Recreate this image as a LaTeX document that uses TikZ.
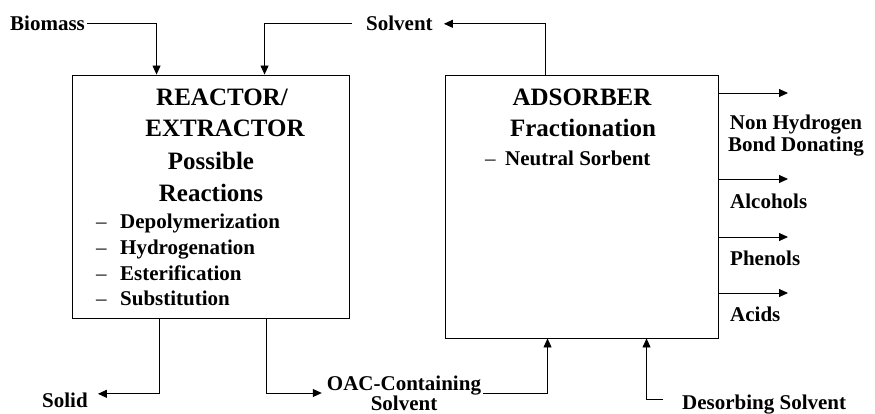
\documentclass[tikz,border=0pt]{standalone}
\usepackage{fontspec}
\setmainfont{Liberation Serif}
\usetikzlibrary{arrows.meta}

\begin{document}
\begin{tikzpicture}[x=1pt, y=-1pt,
    unit/.style={draw, line width=0.9pt, inner sep=0pt},
    lbl/.style={font=\fontsize{21}{22}\selectfont\bfseries, inner sep=2pt},
    head/.style={font=\fontsize{25}{31}\selectfont\bfseries, inner sep=0pt, anchor=base},
    flow/.style={line width=0.9pt, -{Triangle[length=9pt, width=8pt]}}]
    \useasboundingbox (0,0) rectangle (875,414);

    % Units
    \node[unit, minimum width=277, minimum height=243] (reactor) at (210.5,196.5) {};
    \node[unit, minimum width=273, minimum height=263] (adsorber) at (581.5,206.5) {};

    % Reactor text
    \node[head] (rtitle) at (222,106) {REACTOR/};
    \node[head] (rtitle2) at (225,137) {EXTRACTOR};
    \node[head] (rposs) at (211,170) {Possible};
    \node[head] (rposs2) at (211,202) {Reactions};
    \foreach \rx [count=\i] in {Depolymerization, Hydrogenation, Esterification, Substitution}
        \node[lbl, inner sep=0pt, anchor=base west] (react\i) at (96,{229+25.6*(\i-1)})
            {\makebox[24pt][l]{\mdseries\textendash}\rx};

    % Adsorber text
    \node[head] (atitle) at (582,106) {ADSORBER};
    \node[head] (atitle2) at (583,137) {Fractionation};
    \node[lbl, inner sep=0pt, anchor=base west] (sorbent) at (485,166)
        {\makebox[20pt][l]{\mdseries\textendash}Neutral Sorbent};

    % Streams in and out of the reactor
    \node[lbl, anchor=base west] (biomass) at (8,31) {Biomass};
    \node[lbl, anchor=base west] (solvent) at (364,31) {Solvent};
    \node[lbl, anchor=base west] (solid) at (40,407) {Solid};
    \node[lbl, align=center, font=\fontsize{21}{20}\selectfont\bfseries] (oac) at (404,393) {OAC-Containing\\Solvent};
    \node[lbl, anchor=base west] (desorb) at (680,409) {Desorbing Solvent};

    \draw[flow] (biomass.east) -| ([xshift=85pt]reactor.north west);
    \draw[flow] ([xshift=-12pt]solvent.west) -| ([xshift=193pt]reactor.north west);
    \draw[flow] ([xshift=88pt]reactor.south west) |- ([xshift=8pt, yshift=6pt]solid.east);
    \draw[flow] ([xshift=195pt]reactor.south west) |- ([xshift=-3pt]oac.west);

    % Streams in and out of the adsorber
    \draw[flow] ([xshift=101pt]adsorber.north west) |- ([xshift=9pt]solvent.east);
    \draw[flow] (oac.east) -| ([xshift=103pt]adsorber.south west);
    \draw[flow] ([xshift=-17pt, yshift=5pt]desorb.west) -| ([xshift=202pt]adsorber.south west);

    % Fractions
    \node[lbl, align=center] (nhbd) at (796,136) {Non Hydrogen\\Bond Donating};
    \node[lbl, anchor=base west] (alcohols) at (728,208) {Alcohols};
    \node[lbl, anchor=base west] (phenols) at (728,265) {Phenols};
    \node[lbl, anchor=base west] (acids) at (728,321) {Acids};
    \foreach \yy [count=\i] in {93,179,237,293} {
        \coordinate (out\i) at (788,\yy);
        \draw[flow] (adsorber.east |- out\i) -- (out\i);
    }
\end{tikzpicture}
\end{document}
